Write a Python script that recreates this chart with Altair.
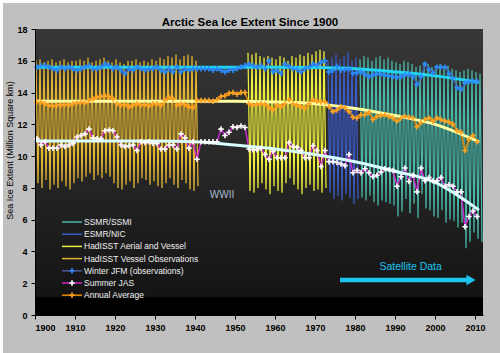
import altair as alt
import pandas as pd

# ---------------- data ----------------
years = list(range(1900, 2011))

winter_jfm = [
    15.6, 15.7, 15.7, 15.6, 15.5, 15.4, 15.6, 15.5, 15.6, 15.5,
    15.4, 15.5, 15.6, 15.7, 15.5, 15.5, 15.6, 15.8, 15.7, 15.5,
    15.6, 15.4, 15.2, 15.5, 15.4, 15.6, 15.5, 15.4, 15.5, 15.5,
    15.6, 15.4, 15.3, 15.5, 15.3, 15.6, 15.3, 15.5, 15.4, 15.5,
    15.5, 15.5, 15.5, 15.5, 15.4, 15.5, 15.4, 15.3, 15.4, 15.4,
    15.5, 15.6, 15.7, 15.8, 15.7, 15.6, 15.7, 15.5, 16.0, 15.3,
    15.4, 15.2, 15.8, 15.65, 15.5, 15.45, 15.3, 15.5, 15.6, 15.8,
    15.7, 15.9, 16.0, 15.3, 15.4, 15.65, 15.4, 15.45, 15.5, 15.2,
    15.25, 15.3, 15.15, 15.0, 15.1, 15.2, 15.15, 15.1, 15.05, 15.0,
    14.95, 15.0, 15.1, 15.15, 15.0, 14.5, 15.0, 15.8, 15.45, 15.25,
    15.6, 15.6, 15.6, 15.2, 14.9, 14.3, 14.2, 14.6, 14.7, 14.7, 14.7,
]

summer_jas = [
    11.1, 10.7, 10.9, 10.5, 10.5, 10.5, 10.7, 10.6, 10.7, 10.8,
    11.2, 11.3, 11.4, 11.7, 11.15, 11.1, 11.1, 11.6, 11.65, 11.6,
    11.2, 10.7, 10.6, 10.65, 10.7, 10.35, 10.9, 10.85, 10.9, 10.8,
    10.8, 10.45, 10.45, 10.7, 10.7, 10.45, 11.4, 11.15, 10.5, 10.9,
    9.8, 10.9, 10.9, 10.9, 10.9, 10.9, 11.7, 11.3, 11.5, 11.85,
    11.8, 11.9, 11.8, 10.45, 10.4, 10.4, 10.5, 10.1, 9.8, 10.3,
    9.9, 9.9, 9.9, 10.85, 10.6, 10.55, 10.35, 9.9, 9.9, 10.65,
    10.35, 9.35, 10.35, 9.65, 9.65, 9.6, 9.5, 9.4, 10.1, 8.95,
    9.1, 8.95, 9.2, 8.95, 8.7, 8.8, 9.0, 9.2, 9.15, 9.1,
    8.1, 8.7, 9.25, 8.4, 8.8, 7.75, 9.25, 8.45, 8.65, 8.45,
    8.45, 8.65, 8.1, 8.2, 8.1, 7.75, 7.75, 5.55, 6.2, 6.55, 6.2,
]

annual_avg = [
    13.4, 13.4, 13.3, 13.2, 13.15, 13.2, 13.2, 13.25, 13.2, 13.3,
    13.35, 13.4, 13.35, 13.5, 13.6, 13.7, 13.75, 13.8, 13.75, 13.6,
    13.3, 13.2, 13.25, 13.1, 13.2, 13.3, 13.2, 13.25, 13.15, 13.3,
    13.3, 13.2, 13.5, 13.7, 13.6, 13.2, 13.3, 13.25, 13.1, 13.05,
    13.5, 13.5, 13.5, 13.5, 13.45, 13.55, 13.75, 13.8, 13.95, 14.0,
    13.9, 14.0, 14.0, 13.3, 13.2, 13.25, 13.3, 13.25, 13.05, 12.9,
    13.2, 13.1, 13.3, 13.55, 13.3, 13.2, 13.1, 13.0, 13.3, 13.55,
    13.45, 13.4, 13.4, 13.1, 12.8, 12.9, 13.1, 13.05, 12.8, 12.45,
    12.4, 12.6, 12.6, 12.75, 12.3, 12.5, 12.55, 12.6, 12.5, 12.4,
    12.2, 12.4, 12.5, 12.45, 12.4, 11.85, 12.1, 12.3, 12.4, 12.2,
    12.4, 12.3, 12.2, 12.15, 12.0, 11.6, 11.5, 10.35, 11.05, 11.3, 10.9,
]

trend_years = [1900, 1910, 1920, 1930, 1940, 1950, 1960, 1970, 1980, 1990, 2000, 2011]
winter_trend = [15.6, 15.6, 15.6, 15.6, 15.6, 15.6, 15.6, 15.58, 15.5, 15.3, 15.05, 14.65]
annual_trend = [13.45, 13.45, 13.45, 13.45, 13.45, 13.45, 13.4, 13.3, 13.0, 12.55, 12.0, 10.9]
summer_trend = [10.95, 10.95, 10.95, 10.95, 10.9, 10.7, 10.45, 10.1, 9.65, 9.05, 8.35, 6.6]

# monthly extremes (annual max / min) per source
vessel_years = list(range(1900, 1941))
vessel_max = [16.0, 16.1, 15.9, 16.0, 16.1, 15.9, 16.0, 16.1, 15.9, 16.0,
              16.0, 16.1, 16.0, 16.2, 15.9, 16.0, 16.1, 16.2, 16.0, 15.9,
              16.1, 15.9, 15.8, 16.0, 16.0, 16.1, 15.9, 16.0, 15.9, 16.1,
              16.0, 16.2, 16.1, 16.3, 16.2, 16.4, 16.1, 16.3, 16.4, 16.3, 16.0]
vessel_min = [8.3, 8.0, 8.5, 7.9, 8.2, 8.0, 8.4, 8.1, 7.9, 8.3,
              8.6, 8.4, 8.7, 8.9, 8.5, 8.8, 8.6, 8.9, 8.7, 8.3,
              8.0, 7.9, 8.2, 8.4, 8.0, 8.3, 8.6, 8.5, 8.2, 8.4,
              8.1, 8.0, 8.3, 8.6, 8.2, 8.0, 8.5, 8.3, 7.9, 7.8, 8.1]

aerial_years = list(range(1953, 1973))
aerial_max = [16.5, 16.4, 16.5, 16.3, 16.2, 16.3, 16.2, 16.1, 16.3, 16.2,
              16.0, 16.3, 16.2, 16.4, 16.3, 16.5, 16.4, 16.6, 16.7, 16.6]
aerial_min = [7.8, 7.7, 8.0, 8.3, 7.9, 7.6, 8.1, 7.8, 7.7, 8.3,
              8.6, 8.2, 7.9, 7.6, 8.0, 8.2, 7.8, 7.9, 7.7, 8.0]

esmr_years = list(range(1973, 1981))
esmr_max = [16.0, 16.2, 16.4, 16.1, 16.3, 16.5, 16.0, 16.2]
esmr_min = [7.7, 7.3, 7.5, 7.2, 7.6, 7.4, 7.0, 7.3]

ssmi_years = list(range(1981, 2012))
ssmi_max = [16.1, 16.3, 16.2, 16.0, 16.2, 16.3, 16.1, 16.2, 16.0, 15.9,
            15.8, 16.0, 15.9, 15.8, 15.6, 15.7, 15.9, 15.8, 15.6, 15.7,
            15.8, 15.6, 15.7, 15.5, 15.4, 15.3, 15.4, 15.5, 15.4, 15.3, 15.2]
ssmi_min = [7.4, 7.2, 7.5, 7.1, 6.9, 7.2, 7.1, 7.0, 6.9, 6.2,
            6.5, 7.3, 6.4, 7.0, 6.1, 7.6, 6.7, 6.6, 6.2, 6.1,
            6.6, 5.8, 6.0, 5.9, 5.5, 5.8, 4.2, 4.6, 5.2, 4.8, 4.6]

source_names = ["SSMR/SSMI", "ESMR/NIC", "HadISST Aerial and Vessel", "HadISST Vessel Observations"]
series_names = ["Winter JFM (observations)", "Summer JAS", "Annual Average"]

# ---------------- styles ----------------
SRC_COL = {"SSMR/SSMI": "#48b8a8", "ESMR/NIC": "#3a5ac8",
           "HadISST Aerial and Vessel": "#eeee3c", "HadISST Vessel Observations": "#e2b432"}
FONT = "Liberation Sans"

# ---------------- tables ----------------
rows = []
k = 0
for name, yrs, mx, mn in [
    ("HadISST Vessel Observations", vessel_years, vessel_max, vessel_min),
    ("HadISST Aerial and Vessel", aerial_years, aerial_max, aerial_min),
    ("ESMR/NIC", esmr_years, esmr_max, esmr_min),
    ("SSMR/SSMI", ssmi_years, ssmi_max, ssmi_min),
]:
    for yv, a, b in zip(yrs, mx, mn):
        rows.append({"src": name, "t": yv + 0.25, "v": a, "i": k}); k += 1
        rows.append({"src": name, "t": yv + 0.75, "v": b, "i": k}); k += 1
zig = pd.DataFrame(rows)

ser = pd.DataFrame({"year": years, "winter": winter_jfm, "summer": summer_jas, "annual": annual_avg})
ser["t"] = ser["year"] + 0.5
trd = pd.DataFrame({"t": trend_years, "w": winter_trend, "a": annual_trend, "s": summer_trend})

xs = alt.Scale(domain=[1900, 2012], nice=False, zero=False)
ys = alt.Scale(domain=[0, 18], nice=False)
xaxis = alt.Axis(values=list(range(1900, 2011, 10)), format="d", title=None, grid=False,
                 tickSize=4, labelPadding=4, labelFontSize=9, labelFontWeight="bold",
                 labelFont=FONT, labelColor="black", domainColor="black", tickColor="black",
                 zindex=1)
yaxis = alt.Axis(values=list(range(0, 19, 2)), title="Sea Ice Extent (Million Square km)",
                 grid=False, tickSize=4, labelPadding=4, labelFontSize=9, labelFontWeight="bold",
                 labelFont=FONT, labelColor="black", domainColor="black", tickColor="black",
                 titleFont=FONT, titleFontSize=9, titleFontWeight="normal", titleColor="black",
                 titleX=-21, titleY=121, titleAngle=-90, titleAlign="center", titleBaseline="bottom",
                 zindex=1)

W, H = 448, 286
one = pd.DataFrame({"a": [0]})

panel = alt.Chart(one).mark_rect(color="#c0c0c0").encode(
    x=alt.value(-32), x2=alt.value(W + 17), y=alt.value(-26), y2=alt.value(H + 38))
bg = alt.Chart(one).mark_rect(color=alt.Gradient(
    gradient="linear", x1=0, x2=0, y1=0, y2=1,
    stops=[alt.GradientStop(offset=0, color="#373737"),
           alt.GradientStop(offset=0.5, color="#262626"),
           alt.GradientStop(offset=0.935, color="#141414"),
           alt.GradientStop(offset=0.94, color="#000000"),
           alt.GradientStop(offset=1, color="#000000")])).encode(
    x=alt.value(0), x2=alt.value(W), y=alt.value(0), y2=alt.value(H))

bars = alt.Chart(zig).mark_line(strokeWidth=1.25).encode(
    x=alt.X("t:Q", scale=xs, axis=xaxis),
    y=alt.Y("v:Q", scale=ys, axis=yaxis),
    color=alt.Color("src:N", scale=alt.Scale(domain=source_names,
                                             range=[SRC_COL[n] for n in source_names]), legend=None),
    order="i:Q",
)

def sline(field, color, width):
    return alt.Chart(ser).mark_line(color=color, strokeWidth=width).encode(
        x=alt.X("t:Q", scale=xs, axis=xaxis), y=alt.Y(f"{field}:Q", scale=ys, axis=yaxis))

PLUS = "M-1,0L1,0M0,-1L0,1"
def smark(field, color):
    return alt.Chart(ser).mark_point(shape=PLUS, filled=False, size=30, strokeWidth=1.6,
                                     color=color, opacity=1).encode(
        x=alt.X("t:Q", scale=xs, axis=xaxis), y=alt.Y(f"{field}:Q", scale=ys, axis=yaxis))

def tline(field, color):
    return alt.Chart(trd).mark_line(color=color, strokeWidth=3, interpolate="monotone").encode(
        x=alt.X("t:Q", scale=xs, axis=xaxis), y=alt.Y(f"{field}:Q", scale=ys, axis=yaxis))

lines = [sline("winter", "#3a5aa8", 1.5), sline("annual", "#e88a00", 1.5), sline("summer", "#c828c8", 1.5)]
trends = [tline("w", "#22d4f4"), tline("a", "#ffffa0"), tline("s", "#d8ffff")]
marks = [smark("winter", "#2a8cff"), smark("annual", "#ffa424"), smark("summer", "#ffffff")]

# annotations
ann = pd.DataFrame({"t": [1946.75], "v": [7.57], "txt": ["WWII"]})
wwii = alt.Chart(ann).mark_text(font=FONT, fontSize=10, color="#a8bcd2").encode(
    x=alt.X("t:Q", scale=xs, axis=xaxis), y=alt.Y("v:Q", scale=ys, axis=yaxis), text="txt:N")
sat = pd.DataFrame({"t": [1993.9], "v": [3.03], "txt": ["Satellite Data"]})
satt = alt.Chart(sat).mark_text(font=FONT, fontSize=10.5, color="#1ec4f0").encode(
    x=alt.X("t:Q", scale=xs, axis=xaxis), y=alt.Y("v:Q", scale=ys, axis=yaxis), text="txt:N")
arr = pd.DataFrame({"t": [1976.25], "t2": [2009.0], "v": [2.2]})
shaft = alt.Chart(arr).mark_rule(color="#1ec4f0", strokeWidth=4.5).encode(
    x=alt.X("t:Q", scale=xs, axis=xaxis), x2="t2:Q", y=alt.Y("v:Q", scale=ys, axis=yaxis))
head = alt.Chart(arr).mark_point(shape="triangle-right", filled=True, size=110, color="#1ec4f0",
                                 opacity=1).encode(
    x=alt.X("t2:Q", scale=xs, axis=xaxis), y=alt.Y("v:Q", scale=ys, axis=yaxis))

title = alt.Chart(one).mark_text(text="Arctic Sea Ice Extent Since 1900", font=FONT, fontSize=11.5,
                                 fontWeight="bold", color="black", baseline="alphabetic").encode(
    x=alt.value(215), y=alt.value(-3))

# manual legend
leg_items = [
    ("SSMR/SSMI", SRC_COL["SSMR/SSMI"], None),
    ("ESMR/NIC", SRC_COL["ESMR/NIC"], None),
    ("HadISST Aerial and Vessel", SRC_COL["HadISST Aerial and Vessel"], None),
    ("HadISST Vessel Observations", SRC_COL["HadISST Vessel Observations"], None),
    ("Winter JFM (observations)", "#4a5aa0", "#2a8cff"),
    ("Summer JAS", "#c828c8", "#ffffff"),
    ("Annual Average", "#e88a00", "#ffa424"),
]
legend_layers = []
for idx, (lab, lc, mc) in enumerate(leg_items):
    yy = 193 + idx * 12.2
    legend_layers.append(alt.Chart(one).mark_rule(color=lc, strokeWidth=1.5).encode(
        x=alt.value(27), x2=alt.value(47), y=alt.value(yy)))
    if mc:
        legend_layers.append(alt.Chart(one).mark_point(shape=PLUS, filled=False, size=30,
                                                       strokeWidth=1.6, color=mc, opacity=1).encode(
            x=alt.value(37), y=alt.value(yy)))
    legend_layers.append(alt.Chart(one).mark_text(text=lab, font=FONT, fontSize=8.5, color="#f0f0f0",
                                                  align="left", baseline="middle").encode(
        x=alt.value(49), y=alt.value(yy)))

chart = alt.layer(
    panel, bg, bars, *lines, *trends, *marks, wwii, satt, shaft, head, title, *legend_layers
).properties(
    width=W, height=H,
    padding={"left": 35, "top": 29, "right": 17, "bottom": 38},
    autosize=alt.AutoSizeParams(type="none"),
    background="#ffffff",
).configure_view(stroke=None)

chart.save("out.html", embed_options={"renderer": "svg", "actions": False})
